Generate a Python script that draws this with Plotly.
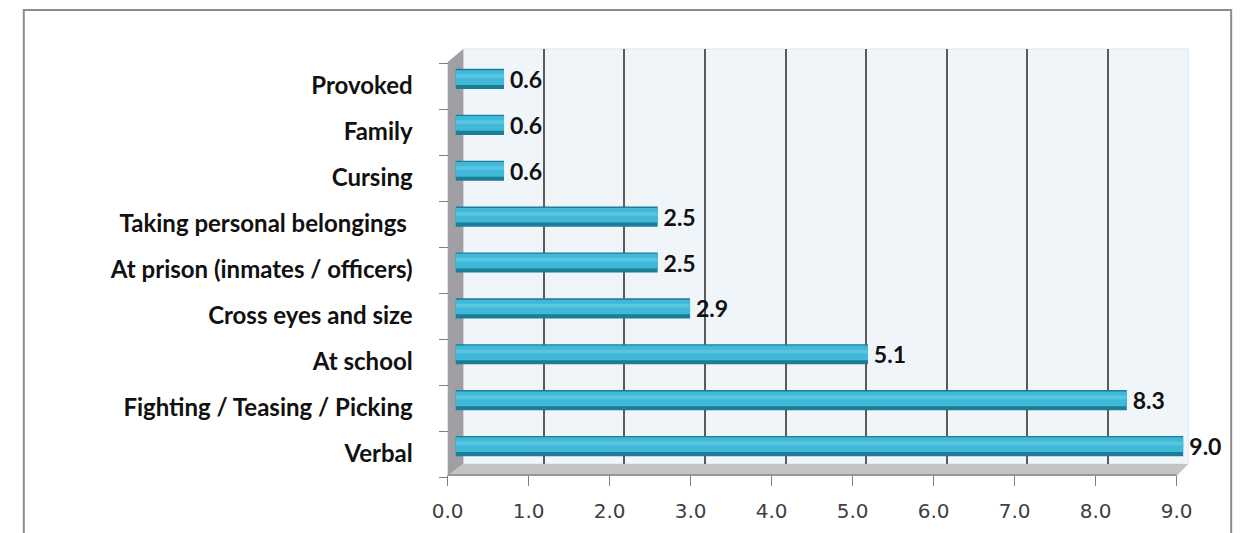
import plotly.graph_objects as go

W, H = 1254, 533

# Reasons for aggression, bottom to top
categories = [
    "Verbal",
    "Fighting / Teasing / Picking",
    "At school",
    "Cross eyes and size",
    "At prison (inmates / officers)",
    "Taking personal belongings ",
    "Cursing",
    "Family",
    "Provoked",
]
values = [9.0, 8.3, 5.1, 2.9, 2.5, 2.5, 0.6, 0.6, 0.6]
tick_values = [0, 1, 2, 3, 4, 5, 6, 7, 8, 9]
tick_labels = ["0.0", "1.0", "2.0", "3.0", "4.0", "5.0", "6.0", "7.0", "8.0", "9.0"]


def px_x(p):
    return p / W


def px_y(p):
    return 1 - p / H


label_font = dict(family="Lato", size=24, color="#111111", weight="bold")
value_font = dict(family="Lato", size=23, color="#111111", weight="bold")

fig = go.Figure()

# back wall gridlines (drawn first, sits behind everything)
fig.add_trace(go.Scatter(
    x=[], y=[], mode="markers", hoverinfo="skip", xaxis="x", yaxis="y",
))
# category labels on the front edge of the left wall
fig.add_trace(go.Scatter(
    x=values, y=categories, mode="markers", marker=dict(opacity=0),
    hoverinfo="skip", xaxis="x2", yaxis="y2",
))
# cylinder body: dark rim
fig.add_trace(go.Bar(
    x=values, y=categories, orientation="h", width=0.44,
    marker=dict(color="#1B7D96", line=dict(width=0)),
    text=[f"{v:.1f}" for v in values], texttemplate="\u2009%{text}",
    textposition="outside", constraintext="none",
    textfont=value_font, cliponaxis=False, hoverinfo="skip",
    xaxis="x3", yaxis="y3",
))
# cylinder face
fig.add_trace(go.Bar(
    x=values, y=categories, orientation="h", width=0.32, offset=-0.13,
    marker=dict(color="#40B9D8", line=dict(width=0)),
    hoverinfo="skip", xaxis="x3", yaxis="y3",
))
# cylinder highlight
fig.add_trace(go.Bar(
    x=values, y=categories, orientation="h", width=0.08, offset=0.02,
    marker=dict(color="#58C5E2", line=dict(width=0)),
    hoverinfo="skip", xaxis="x3", yaxis="y3",
))

shapes = [
    # outer frame
    dict(type="rect", xref="paper", yref="paper",
         x0=px_x(8), x1=px_x(1247), y0=px_y(545), y1=px_y(10),
         line=dict(color="#8C8C8C", width=2), fillcolor="white", layer="below"),
    # back wall
    dict(type="rect", xref="paper", yref="paper",
         x0=px_x(459), x1=px_x(1203), y0=px_y(464), y1=px_y(49),
         line=dict(color="#DDE5EE", width=1), fillcolor="#F0F5FA", layer="below"),
    # left wall
    dict(type="path", xref="paper", yref="paper",
         path=(f"M {px_x(443)} {px_y(62)} L {px_x(459)} {px_y(49)} "
               f"L {px_x(459)} {px_y(464)} L {px_x(443)} {px_y(476)} Z"),
         line=dict(width=0), fillcolor="#A0A0A4", layer="below"),
    # floor
    dict(type="path", xref="paper", yref="paper",
         path=(f"M {px_x(443)} {px_y(476)} L {px_x(459)} {px_y(464)} "
               f"L {px_x(1203)} {px_y(464)} L {px_x(1191)} {px_y(476)} Z"),
         line=dict(width=0), fillcolor="#C4C4C6", layer="below"),
    dict(type="line", xref="paper", yref="paper",
         x0=px_x(443), x1=px_x(1191), y0=px_y(475), y1=px_y(475),
         line=dict(color="#8A8A8A", width=1.5), layer="below"),
]

fig.update_layout(
    width=W, height=H,
    margin=dict(l=0, r=0, t=0, b=0),
    paper_bgcolor="white",
    plot_bgcolor="rgba(0,0,0,0)",
    barmode="overlay",
    showlegend=False,
    shapes=shapes,
    # back wall grid
    xaxis=dict(domain=[px_x(459), px_x(1203)], range=[0, 9], anchor="y",
               dtick=1, showgrid=True, gridcolor="#5A5A5A", gridwidth=1.5,
               zeroline=False, showticklabels=False, ticks="", showline=False),
    yaxis=dict(domain=[px_y(464), px_y(49)], range=[0, 1], anchor="x",
               showgrid=False, zeroline=False, showticklabels=False,
               ticks="", showline=False),
    # front axis with tick labels and category labels
    xaxis2=dict(domain=[px_x(443), px_x(1191)], range=[0, 9],
                anchor="free", position=px_y(475),
                tickvals=tick_values, ticktext=tick_labels,
                ticks="outside", ticklen=10, tickcolor="#7F7F7F",
                showgrid=False, zeroline=False, showline=False,
                tickfont=dict(family="DejaVu Sans", size=20, color="#404040"),
                ticklabelstandoff=8),
    yaxis2=dict(domain=[px_y(477), px_y(63)], type="category",
                categoryorder="array", categoryarray=categories,
                range=[-0.5, 8.5], anchor="free", position=px_x(443),
                tickson="boundaries",
                ticks="outside", ticklen=9, tickcolor="#7F7F7F",
                showgrid=False, zeroline=False, showline=False,
                tickfont=label_font, ticklabelstandoff=35),
    # bar plane
    xaxis3=dict(domain=[px_x(451), px_x(1198)], range=[0, 9], anchor="y3",
                visible=False),
    yaxis3=dict(domain=[px_y(469), px_y(56)], type="category",
                categoryorder="array", categoryarray=categories,
                range=[-0.5, 8.5], anchor="x3", visible=False),
)

fig.write_html("out.html")
